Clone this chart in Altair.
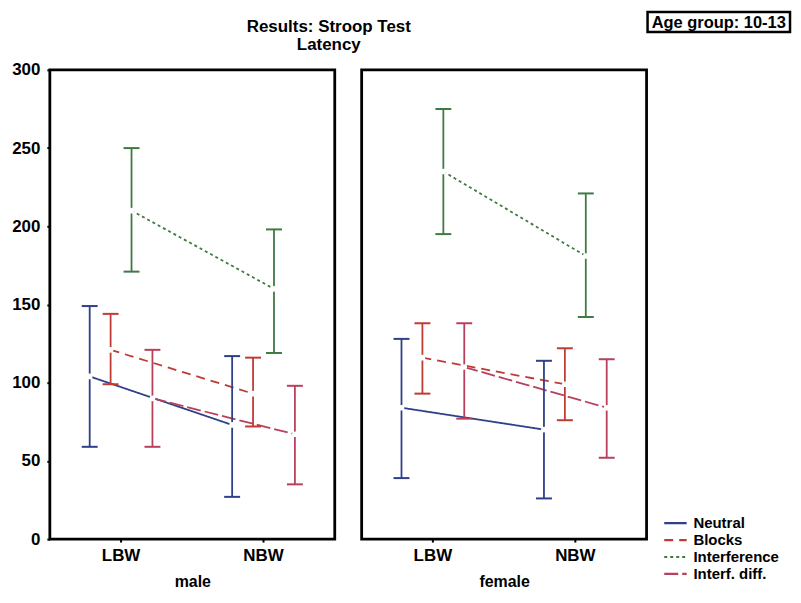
import altair as alt
import pandas as pd

categories = ["LBW", "NBW"]
series = ["Neutral", "Blocks", "Interference", "Interf. diff."]
colors = ["#2f3f88", "#bf3b34", "#3f7a42", "#b8405c"]
dashes = [[1, 0], [9, 6], [3, 3], [14, 4]]

# values listed series by series, LBW then NBW
male_mean = [104, 73, 121, 93, 210, 160, 90, 67]
male_lower = [59, 27, 99, 72, 171, 119, 59, 35]
male_upper = [149, 117, 144, 116, 250, 198, 121, 98]

female_mean = [84, 70, 116, 99, 235, 181, 110, 84]
female_lower = [39, 26, 93, 76, 195, 142, 77, 52]
female_upper = [128, 114, 138, 122, 275, 221, 138, 115]

chart_title = "Results: Stroop Test\nLatency"
age_text = "Age group: 10-13"

FONT = "Liberation Sans"


def table(mean, lower, upper):
    rows = []
    for i, s in enumerate(series):
        for j, c in enumerate(categories):
            k = i * len(categories) + j
            rows.append({"series": s, "group": c, "mean": mean[k],
                         "lower": lower[k], "upper": upper[k]})
    return pd.DataFrame(rows)


def legend():
    return alt.Legend(
        title=None, orient="none", legendX=619, legendY=446,
        symbolType="M-1.5,0H1.5", symbolSize=225, symbolStrokeWidth=2.2,
        labelFont=FONT, labelFontWeight="bold", labelFontSize=15,
        labelColor="black", rowPadding=0, labelOffset=9, padding=0,
    )


color_enc = alt.Color("series:N", scale=alt.Scale(domain=series, range=colors),
                      legend=legend())
dash_enc = alt.StrokeDash("series:N", scale=alt.Scale(domain=series, range=dashes),
                          legend=legend())


def panel(df, sex, first, extra=None):
    x = alt.X(
        "group:N",
        scale=alt.Scale(domain=categories, paddingInner=0, paddingOuter=0),
        axis=alt.Axis(
            title=sex, labelAngle=0, tickSize=3, tickWidth=2, tickColor="black",
            labelFont=FONT, labelFontWeight="bold", labelFontSize=17,
            labelColor="black", labelPadding=5,
            titleFont=FONT, titleFontWeight="bold", titleFontSize=16,
            titleColor="black", titlePadding=11, domain=False,
        ),
    )
    xoff = alt.XOffset(
        "series:N",
        scale=alt.Scale(type="point", domain=series, range=[40, 103], padding=0),
    )
    yscale = alt.Scale(domain=[0, 300], nice=False)
    if first:
        yaxis = alt.Axis(
            title=None, values=[0, 50, 100, 150, 200, 250, 300],
            tickSize=3, tickWidth=2, tickColor="black", domain=False, grid=False,
            labelFont=FONT, labelFontWeight="bold", labelFontSize=17,
            labelColor="black", labelPadding=7,
        )
    else:
        yaxis = None
    base = alt.Chart(df).encode(x=x, xOffset=xoff, color=color_enc)
    line = base.mark_line(strokeWidth=1.8).encode(
        y=alt.Y("mean:Q", scale=yscale, axis=yaxis), strokeDash=dash_enc
    )
    bars = base.mark_rule(strokeWidth=1.8).encode(
        y=alt.Y("lower:Q", scale=yscale), y2="upper:Q"
    )
    cap_lo = base.mark_tick(thickness=2, size=16, opacity=1).encode(
        y=alt.Y("lower:Q", scale=yscale)
    )
    cap_hi = base.mark_tick(thickness=2, size=16, opacity=1).encode(
        y=alt.Y("upper:Q", scale=yscale)
    )
    pts = base.mark_point(filled=True, fill="white", size=32, strokeWidth=0.6,
                          opacity=1, shape="circle").encode(
        y=alt.Y("mean:Q", scale=yscale)
    )
    layers = [line, bars, cap_lo, cap_hi, pts]
    if extra is not None:
        layers += extra
    return alt.layer(*layers).properties(width=286, height=471)


title_data = alt.Data(values=[{"label": chart_title}])
title_mark = alt.Chart(title_data).mark_text(
    font=FONT, fontWeight="bold", fontSize=17, color="black",
    align="center", baseline="alphabetic", lineBreak="\n", lineHeight=18,
).encode(x=alt.value(280), y=alt.value(-38), text="label:N")

age_data = alt.Data(values=[{"label": age_text}])
box = alt.Chart(age_data).mark_rect(
    fill="white", stroke="black", strokeWidth=2.5
).encode(
    x=alt.value(287), x2=alt.value(430), y=alt.value(-58), y2=alt.value(-38)
)
box_text = alt.Chart(age_data).mark_text(
    font=FONT, fontWeight="bold", fontSize=16.5, color="black",
    align="center", baseline="middle"
).encode(x=alt.value(358.5), y=alt.value(-47.5), text="label:N")

male = panel(table(male_mean, male_lower, male_upper), "male", True,
             extra=[title_mark])
female = panel(table(female_mean, female_lower, female_upper), "female", False,
               extra=[box, box_text])

chart = alt.hconcat(male, female, spacing=27, bounds="flush").properties(
    padding={"left": 2, "top": 0, "right": 0, "bottom": 0},
).configure_view(
    stroke="black", strokeWidth=2.8
).configure_axis(grid=False)

chart.save("out.html", embed_options={"renderer": "svg", "actions": False})
